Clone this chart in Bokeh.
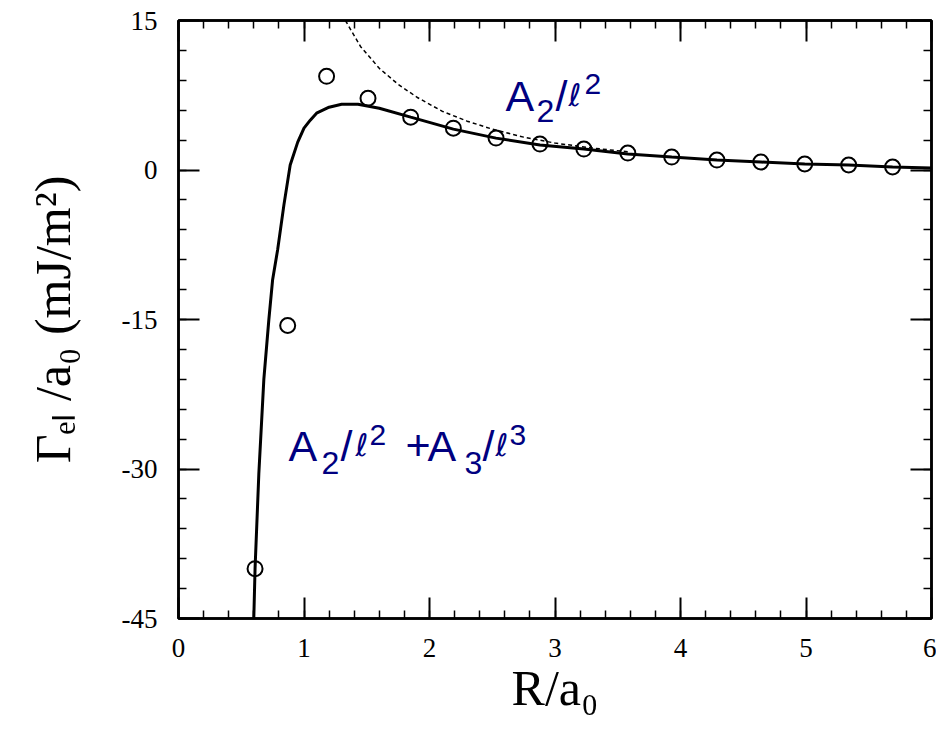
from bokeh.plotting import figure
from bokeh.models import Range1d, LinearAxis, FixedTicker, Label, CustomJSTickFormatter
from bokeh.embed import file_html
from bokeh.resources import INLINE

# ---- data ----
circ_x = [0.61, 0.87, 1.18, 1.51, 1.85, 2.19, 2.53, 2.88, 3.23, 3.58, 3.93, 4.29, 4.64, 4.99, 5.34, 5.69]
circ_y = [-40.0, -15.6, 9.4, 7.2, 5.3, 4.2, 3.2, 2.6, 2.1, 1.7, 1.3, 1.0, 0.8, 0.6, 0.5, 0.3]

fit_x = [0.60, 0.61, 0.64, 0.68, 0.72, 0.75, 0.79, 0.84, 0.89, 0.95, 1.00, 1.05, 1.10, 1.20, 1.30,
         1.43, 1.60, 1.85, 2.19, 2.53, 2.88, 3.23, 3.58, 3.93, 4.29, 4.64, 4.99, 5.34, 5.69, 6.00]
fit_y = [-45.0, -40.0, -30.5, -21.0, -15.0, -11.0, -8.0, -3.5, 0.5, 2.8, 4.2, 5.0, 5.7, 6.3, 6.6,
         6.6, 6.2, 5.3, 4.1, 3.2, 2.5, 2.1, 1.6, 1.3, 1.0, 0.8, 0.6, 0.5, 0.3, 0.2]

a2_x = [1.33, 1.45, 1.60, 1.75, 1.90, 2.10, 2.30, 2.50, 2.75, 3.00, 3.30, 3.60]
a2_y = [15.0, 12.4, 10.2, 8.6, 7.3, 5.9, 4.9, 4.1, 3.3, 2.7, 2.2, 1.8]

x_ticks = [0, 1, 2, 3, 4, 5, 6]
x_tick_labels = ["0", "1", "2", "3", "4", "5", "6"]
y_ticks = [-45, -30, -15, 0, 15]
y_tick_labels = ["-45", "-30", "-15", "0", "15"]
x_minor = [round(0.2 * i, 1) for i in range(31)]
y_minor = list(range(-45, 16, 3))

x_title = "R/a₀"
y_title = "Γₑₗ /a₀ (mJ/m²)"

NAVY = "#000080"
SER = "Liberation Serif"

p = figure(width=936, height=729, output_backend="svg", toolbar_location=None,
           x_range=Range1d(0, 6), y_range=Range1d(-45, 15),
           x_axis_location=None, y_axis_location=None,
           min_border_left=178, min_border_right=5, min_border_top=20, min_border_bottom=111)
p.grid.visible = False
p.outline_line_color = "black"
p.outline_line_width = 2.5
p.background_fill_color = "white"
p.border_fill_color = "white"


def mk_axis(ticks, tick_labels, minor, labels=True):
    ax = LinearAxis(ticker=FixedTicker(ticks=ticks, minor_ticks=minor))
    ax.major_tick_in = 21
    ax.major_tick_out = 0
    ax.minor_tick_in = 8
    ax.minor_tick_out = 0
    ax.major_tick_line_width = 2
    ax.minor_tick_line_width = 1.5
    ax.axis_line_width = 2.5
    ax.major_label_text_font = SER
    ax.major_label_text_color = "black"
    if labels:
        ax.major_label_overrides = {t: s for t, s in zip(ticks, tick_labels)}
        ax.major_label_text_font_size = "27px"
    else:
        ax.formatter = CustomJSTickFormatter(code="return ''")
        ax.major_label_text_font_size = "1px"
        ax.major_label_standoff = 0
    return ax


xb = mk_axis(x_ticks, x_tick_labels, x_minor)
xb.major_label_standoff = 20
xb.axis_label = x_title
xb.axis_label_text_font = SER
xb.axis_label_text_font_size = "50px"
xb.axis_label_text_font_style = "normal"
xb.axis_label_text_color = "black"
xb.axis_label_standoff = 0
p.add_layout(xb, "below")

yl = mk_axis(y_ticks, y_tick_labels, y_minor)
yl.major_label_standoff = 21
yl.axis_label = y_title
yl.axis_label_text_font = SER
yl.axis_label_text_font_size = "50px"
yl.axis_label_text_font_style = "normal"
yl.axis_label_text_color = "black"
yl.axis_label_standoff = 38
p.add_layout(yl, "left")

p.add_layout(mk_axis(x_ticks, x_tick_labels, x_minor, False), "above")
p.add_layout(mk_axis(y_ticks, y_tick_labels, y_minor, False), "right")

p.line(a2_x, a2_y, line_color="black", line_width=1.5, line_dash="4 3")
p.line(fit_x, fit_y, line_color="black", line_width=3)
p.scatter(circ_x, circ_y, marker="circle", size=15, fill_color=None, line_color="black", line_width=2)


# frame corner (0, -45) = pixel (178, 618); offsets in screen pixels
def lab(text, px, py, size, font="Liberation Sans", color=NAVY):
    p.add_layout(Label(x=0, y=-45, x_offset=px - 178, y_offset=618 - py, text=text,
                       text_font=font, text_font_size=f"{size}px", text_color=color,
                       text_baseline="alphabetic", text_align="left"))


# A2/l^2
lab("A", 505, 95, 43)
lab("2", 536, 110, 32)
lab("/", 555, 95, 43)
lab("ℓ", 568, 94, 31, font="DejaVu Sans")
lab("2", 584, 83, 30)

# A2/l^2 + A3/l^3
lab("A", 288, 445, 43)
lab("2", 321, 462, 32)
lab("/", 340, 445, 43)
lab("ℓ", 355, 444, 31, font="DejaVu Sans")
lab("2", 369, 434, 30)
lab("+", 405, 445, 43)
lab("A", 427, 445, 43)
lab("3", 464, 462, 32)
lab("/", 482, 445, 43)
lab("ℓ", 495, 444, 31, font="DejaVu Sans")
lab("3", 509, 434, 30)

open("out.html", "w").write(file_html(p, INLINE))
